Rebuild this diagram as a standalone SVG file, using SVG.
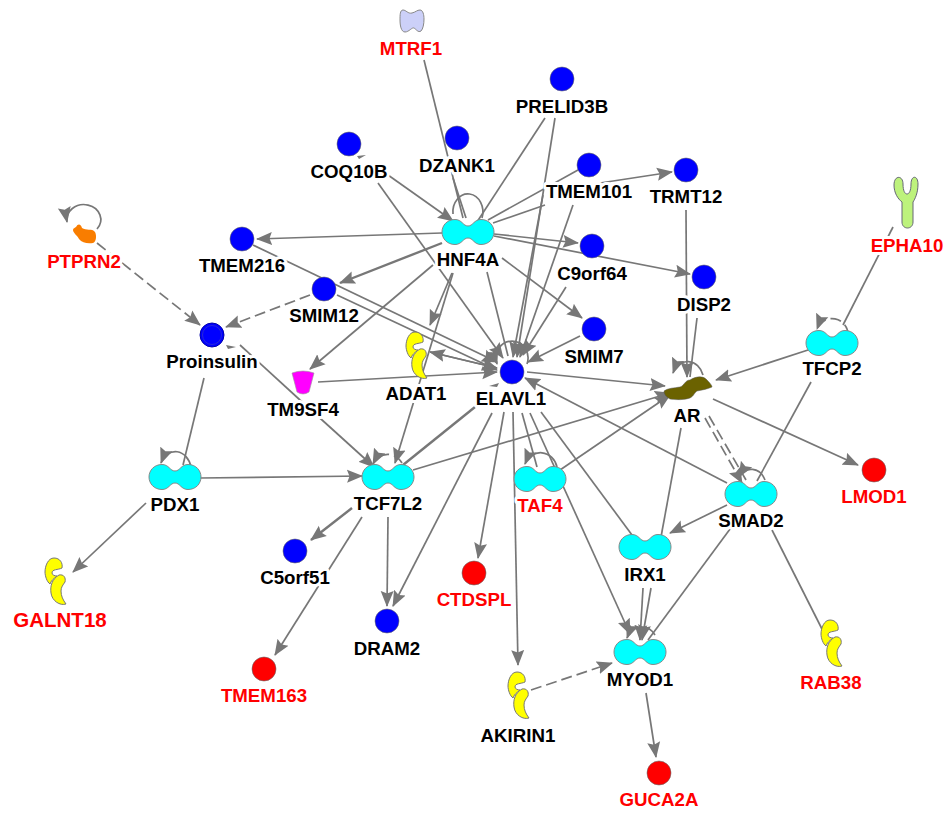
<svg xmlns="http://www.w3.org/2000/svg" xmlns:xlink="http://www.w3.org/1999/xlink" width="946" height="814" viewBox="0 0 946 814">
<style>
text{font-family:"Liberation Sans",Arial,sans-serif;font-size:18.7px;font-weight:700;text-anchor:middle;fill:#000;stroke:#fff;stroke-width:6px;paint-order:stroke;stroke-linejoin:round}
text.r{fill:#f00}
#edges path{fill:none;stroke:#777;stroke-width:1.7}
#edges path.d{stroke-dasharray:11 5}
#edges path.a{marker-end:url(#arr)}
#edges path.t{stroke-width:2.4}
#edges path.f{fill:#777;stroke:none}
.c{stroke:#666;stroke-width:.6}
.blue{fill:#00f}
.red{fill:#f00}
.cy{fill:#0ff;stroke:#888;stroke-width:1}
.ye{fill:#ff0;stroke:#777;stroke-width:1}
</style>
<defs>
<marker id="arr" markerUnits="userSpaceOnUse" markerWidth="16" markerHeight="14" refX="15" refY="7" orient="auto"><path d="M0,0.5L16,7L0,13.5L2.5,7Z" fill="#777"/></marker>
<path id="dumb" d="M-13,-12.5C-6,-12.5 -5,-6 0,-6C5,-6 6,-12.5 13,-12.5C21,-12.5 26,-6.5 26,0C26,6.5 21,12.5 13,12.5C6,12.5 5,6 0,6C-5,6 -6,12.5 -13,12.5C-21,12.5 -26,6.5 -26,0C-26,-6.5 -21,-12.5 -13,-12.5Z"/>
<g id="enz"><path d="M-1,-23C5,-23 8,-18 7,-13C3,-11 -3,-12 -3,-8C-3,-6 0,-5 2,-5C-2,-2 -4,0 -5,3C-8,1 -10,-5 -10,-9C-10,-15 -7,-23 -1,-23Z"/><path d="M4,-6C9,-7 11,-3 10,1C8,4 6,6 6,10C6,15 8,19 11,23C5,25 -3,20 -4,12C-5,5 -3,-2 4,-6Z"/></g>
</defs>
<rect width="946" height="814" fill="#fff"/>
<g id="edges">
<path d="M424,60L463,218"/>
<path d="M453,178L466,218"/>
<path d="M545,118L477,222"/>
<path class="a" d="M555,118L517,357"/>
<path class="a" d="M388,175L453,221"/>
<path class="a" d="M378,183L503,358"/>
<path d="M578,170L488,220"/>
<path d="M545,205L493,223"/>
<path class="a" d="M543,195L513,357"/>
<path class="a" d="M573,205L520,357"/>
<path class="a" d="M600,183L672,172"/>
<path class="a" d="M442,233L257,239"/>
<path class="a t" d="M442,243L340,283"/>
<path class="a" d="M494,234L578,243"/>
<path class="a" d="M494,236L690,274"/>
<path class="a" d="M502,258L582,318"/>
<path d="M487,272L508,356"/>
<path class="a" d="M452,273L430,325"/>
<path class="a" d="M433,265L310,369"/>
<path class="a" d="M453,273L395,463"/>
<path class="a" d="M497,368L430,352"/>
<path class="a" d="M430,352L497,368"/>
<path class="a" d="M253,245L497,362"/>
<path class="a" d="M337,295L497,370"/>
<path class="a d" d="M310,295L226,327"/>
<path class="a d" d="M97,243L200,325"/>
<path d="M240,345L300,400"/>
<path class="a" d="M300,400L374,467"/>
<path d="M204,378L183,465"/>
<path class="a" d="M200,478L362,476"/>
<path class="a" d="M146,503L73,572"/>
<path class="t" d="M475,407L403,465"/>
<path class="a" d="M413,470L670,393"/>
<path class="a t" d="M352,508L311,540"/>
<path class="a" d="M362,517L275,655"/>
<path class="a" d="M388,517L387,606"/>
<path class="a" d="M492,413L393,606"/>
<path class="a" d="M504,412L478,558"/>
<path class="a" d="M513,412L518,665"/>
<path d="M522,413L537,467"/>
<path class="a" d="M530,413L630,634"/>
<path d="M541,412L632,535"/>
<path class="a" d="M727,483L525,378"/>
<path class="a" d="M527,372L665,386"/>
<path class="a" d="M318,382L497,372"/>
<path class="a" d="M580,336L528,362"/>
<path class="a" d="M566,287L523,355"/>
<path class="a" d="M560,470L670,395"/>
<path class="a" d="M686,210L687,377"/>
<path d="M697,318L690,377"/>
<path class="a" d="M808,350L716,380"/>
<path d="M893,227L843,325"/>
<path d="M811,382L757,481"/>
<path class="a" d="M713,399L858,465"/>
<path class="a d" d="M705,418L742,483"/>
<path class="d" d="M709,416L746,480"/>
<path class="a" d="M727,505L670,533"/>
<path d="M772,530L825,635"/>
<path d="M733,525L648,640"/>
<path d="M681,428L661,537"/>
<path class="a" d="M643,588L640,640"/>
<path class="a" d="M651,588L642,640"/>
<path class="a" d="M646,693L656,757"/>
<path class="a d" d="M531,690L612,663"/>
<path d="M482,218A15,18 0 1 0 453,214"/>
<path class="a" d="M527,364A16,17 0 1 0 497,364"/>
<path class="a" d="M97,229A17,15 0 1 0 67,222"/>
<path class="a" d="M703,375A16,19 0 0 0 673,373"/>
<path class="a" d="M191,467A16,20 0 0 0 161,463"/>
<path class="a d" d="M402,463A17,19 0 0 0 373,464"/>
<path class="a" d="M557,467A17,19 0 0 0 525,464"/>
<path class="a d" d="M848,335A16,16 0 0 0 817,329"/>
<path class="a" d="M765,480A15,18 0 0 0 739,477"/>
<path class="a" d="M655,635A16,18 0 0 0 627,638"/>
<path class="f" d="M357,156l9,-1l-7,4z"/>
<path class="f" d="M226,345l10,2l-8,2z"/>
<path class="f" d="M489,386l10,-3l-2,4z"/>
</g>
<g id="MTRF1"><path d="M403,10C406,10 408,14 412,13C416,12 417,10 420,10C423,10 424,15 424,19C424,24 423,29 421,31C418,33 416,29 414,28C412,27 409,32 405,32C401,32 400,25 400,20C400,15 400,10 403,10Z" fill="#ccd0f8" stroke="#888"/><text class="r" x="411" y="55">MTRF1</text></g>
<g id="PRELID3B"><circle class="c blue" cx="562" cy="79" r="12"/><text x="562" y="113">PRELID3B</text></g>
<g id="DZANK1"><circle class="c blue" cx="457" cy="138" r="12"/><text x="457" y="172">DZANK1</text></g>
<g id="COQ10B"><circle class="c blue" cx="349" cy="144" r="12"/><text x="349" y="178">COQ10B</text></g>
<g id="TMEM101"><circle class="c blue" cx="589" cy="165" r="12"/><text x="589" y="198">TMEM101</text></g>
<g id="TRMT12"><circle class="c blue" cx="686" cy="170" r="12"/><text x="686" y="203">TRMT12</text></g>
<g id="EPHA10"><path d="M894,185C894,175 903,175 903,184C903,191 905,194 907,194C909,194 911,191 911,184C911,175 918,175 918,184C918,193 915,199 913,202L913,222C913,230 902,230 902,222L902,202C898,199 894,193 894,185Z" fill="#bdf27c" stroke="#667" stroke-width="1"/><text class="r" x="907" y="252">EPHA10</text></g>
<g id="HNF4A"><use xlink:href="#dumb" href="#dumb" class="cy" x="468" y="232"/><text x="468" y="266">HNF4A</text></g>
<g id="TMEM216"><circle class="c blue" cx="242" cy="239" r="12"/><text x="242" y="272">TMEM216</text></g>
<g id="C9orf64"><circle class="c blue" cx="592" cy="246" r="12"/><text x="592" y="280">C9orf64</text></g>
<g id="DISP2"><circle class="c blue" cx="704" cy="277" r="12"/><text x="704" y="311">DISP2</text></g>
<g id="SMIM12"><circle class="c blue" cx="324" cy="289" r="12"/><text x="324" y="322">SMIM12</text></g>
<g id="PTPRN2"><path d="M76,227C78,223 81,224 82,228C86,231 92,228 95,232C97,236 96,242 93,243C88,244 82,243 79,239C77,235 73,233 73,230C73,228 75,228 76,227Z" fill="#f97d00"/><text class="r" x="84" y="268">PTPRN2</text></g>
<g id="Proinsulin"><circle class="c blue" cx="212" cy="335" r="12" style="stroke:#00a;stroke-width:1"/><circle cx="212" cy="335" r="9.5" fill="none" stroke="#33c" stroke-width=".8"/><text x="212" y="368">Proinsulin</text></g>
<g id="SMIM7"><circle class="c blue" cx="594" cy="329" r="12"/><text x="594" y="363">SMIM7</text></g>
<g id="TFCP2"><use xlink:href="#dumb" href="#dumb" class="cy" x="832" y="343"/><text x="832" y="375">TFCP2</text></g>
<g id="ADAT1"><use xlink:href="#enz" href="#enz" class="ye" x="416" y="355"/><text x="416" y="400">ADAT1</text></g>
<g id="ELAVL1"><circle class="c blue" cx="512" cy="372" r="12"/><text x="511" y="405">ELAVL1</text></g>
<g id="TM9SF4"><path d="M292,373Q303,369 314,373L309,392Q303,396 297,392Z" fill="#f0f" stroke="#999" stroke-width=".6" stroke-linejoin="round"/><text x="303" y="416">TM9SF4</text></g>
<g id="AR"><path d="M664,391C668,388 674,388 680,387C684,386 685,380 690,380C696,376 703,376 706,379C709,382 712,385 712,387C708,389 702,390 697,391C694,393 694,396 690,398C685,400 676,400 670,399C666,397 664,394 664,391Z" fill="#6b6200" stroke="#555" stroke-width=".5"/><text x="687" y="422">AR</text></g>
<g id="PDX1"><use xlink:href="#dumb" href="#dumb" class="cy" x="175" y="477"/><text x="175" y="511">PDX1</text></g>
<g id="TCF7L2"><use xlink:href="#dumb" href="#dumb" class="cy" x="388" y="477"/><text x="388" y="510">TCF7L2</text></g>
<g id="TAF4"><use xlink:href="#dumb" href="#dumb" class="cy" x="540" y="479"/><text class="r" x="540" y="512">TAF4</text></g>
<g id="SMAD2"><use xlink:href="#dumb" href="#dumb" class="cy" x="751" y="494"/><text x="751" y="527">SMAD2</text></g>
<g id="LMOD1"><circle class="c red" cx="874" cy="470" r="12"/><text class="r" x="874" y="503">LMOD1</text></g>
<g id="IRX1"><use xlink:href="#dumb" href="#dumb" class="cy" x="645" y="547"/><text x="645" y="581">IRX1</text></g>
<g id="C5orf51"><circle class="c blue" cx="295" cy="551" r="12"/><text x="295" y="584">C5orf51</text></g>
<g id="CTDSPL"><circle class="c red" cx="474" cy="573" r="12"/><text class="r" x="474" y="606">CTDSPL</text></g>
<g id="GALNT18"><use xlink:href="#enz" href="#enz" class="ye" x="55" y="581"/><text class="r" x="60" y="627" style="font-size:20.5px">GALNT18</text></g>
<g id="DRAM2"><circle class="c blue" cx="387" cy="621" r="12"/><text x="387" y="655">DRAM2</text></g>
<g id="RAB38"><use xlink:href="#enz" href="#enz" class="ye" x="831" y="643"/><text class="r" x="831" y="689">RAB38</text></g>
<g id="MYOD1"><use xlink:href="#dumb" href="#dumb" class="cy" x="640" y="652"/><text x="640" y="686">MYOD1</text></g>
<g id="TMEM163"><circle class="c red" cx="264" cy="669" r="12"/><text class="r" x="264" y="702">TMEM163</text></g>
<g id="AKIRIN1"><use xlink:href="#enz" href="#enz" class="ye" x="518" y="695"/><text x="518" y="742">AKIRIN1</text></g>
<g id="GUCA2A"><circle class="c red" cx="659" cy="773" r="12"/><text class="r" x="659" y="806">GUCA2A</text></g>
</svg>
